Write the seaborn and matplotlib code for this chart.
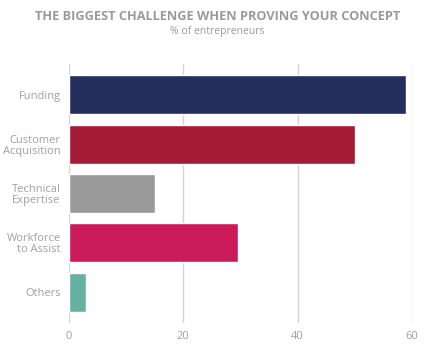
import matplotlib
matplotlib.use('Agg')
import matplotlib.pyplot as plt
import seaborn as sns
import pandas as pd

categories = ['Funding', 'Customer\nAcquisition', 'Technical\nExpertise', 'Workforce\nto Assist', 'Others']
values = [59, 50, 15, 29.5, 3]
colors = ['#242F5E', '#A51B36', '#9A9A9A', '#CC1B5A', '#66B2A1']
xticks = [0, 20, 40, 60]

sns.set_style('white')
plt.rcParams['font.family'] = ['Open Sans', 'DejaVu Sans']

df = pd.DataFrame({'challenge': categories, 'pct': values})

fig = plt.figure(figsize=(4.35, 3.64), dpi=100)
ax = fig.add_axes([0.1586, 0.1126, 0.947 - 0.1586, 0.824 - 0.1126])

sns.barplot(data=df, x='pct', y='challenge', hue='challenge', palette=colors,
            legend=False, width=0.79, saturation=1, ax=ax, zorder=3)

ax.set_xlim(0, 60)
ax.set_ylim(4.62, -0.62)
ax.set_xticks(xticks)
ax.grid(axis='x', color='#d4d4d4', linewidth=1, zorder=0)
ax.grid(axis='y', visible=False)
for s in ax.spines.values():
    s.set_visible(False)
ax.set_xlabel('')
ax.set_ylabel('')
ax.tick_params(axis='both', length=0, colors='#a0a0a0', labelsize=8)
ax.tick_params(axis='x', pad=6)
ax.tick_params(axis='y', pad=6)
for lab in ax.get_yticklabels():
    lab.set_linespacing(1.0)

fig.text(0.5, 0.955, 'THE BIGGEST CHALLENGE WHEN PROVING YOUR CONCEPT',
         ha='center', va='center', fontsize=9.2, fontweight='bold', color='#9a9a9a')
fig.text(0.5, 0.913, '% of entrepreneurs', ha='center', va='center',
         fontsize=7.5, color='#9a9a9a')

fig.savefig('out.png', dpi=100)
